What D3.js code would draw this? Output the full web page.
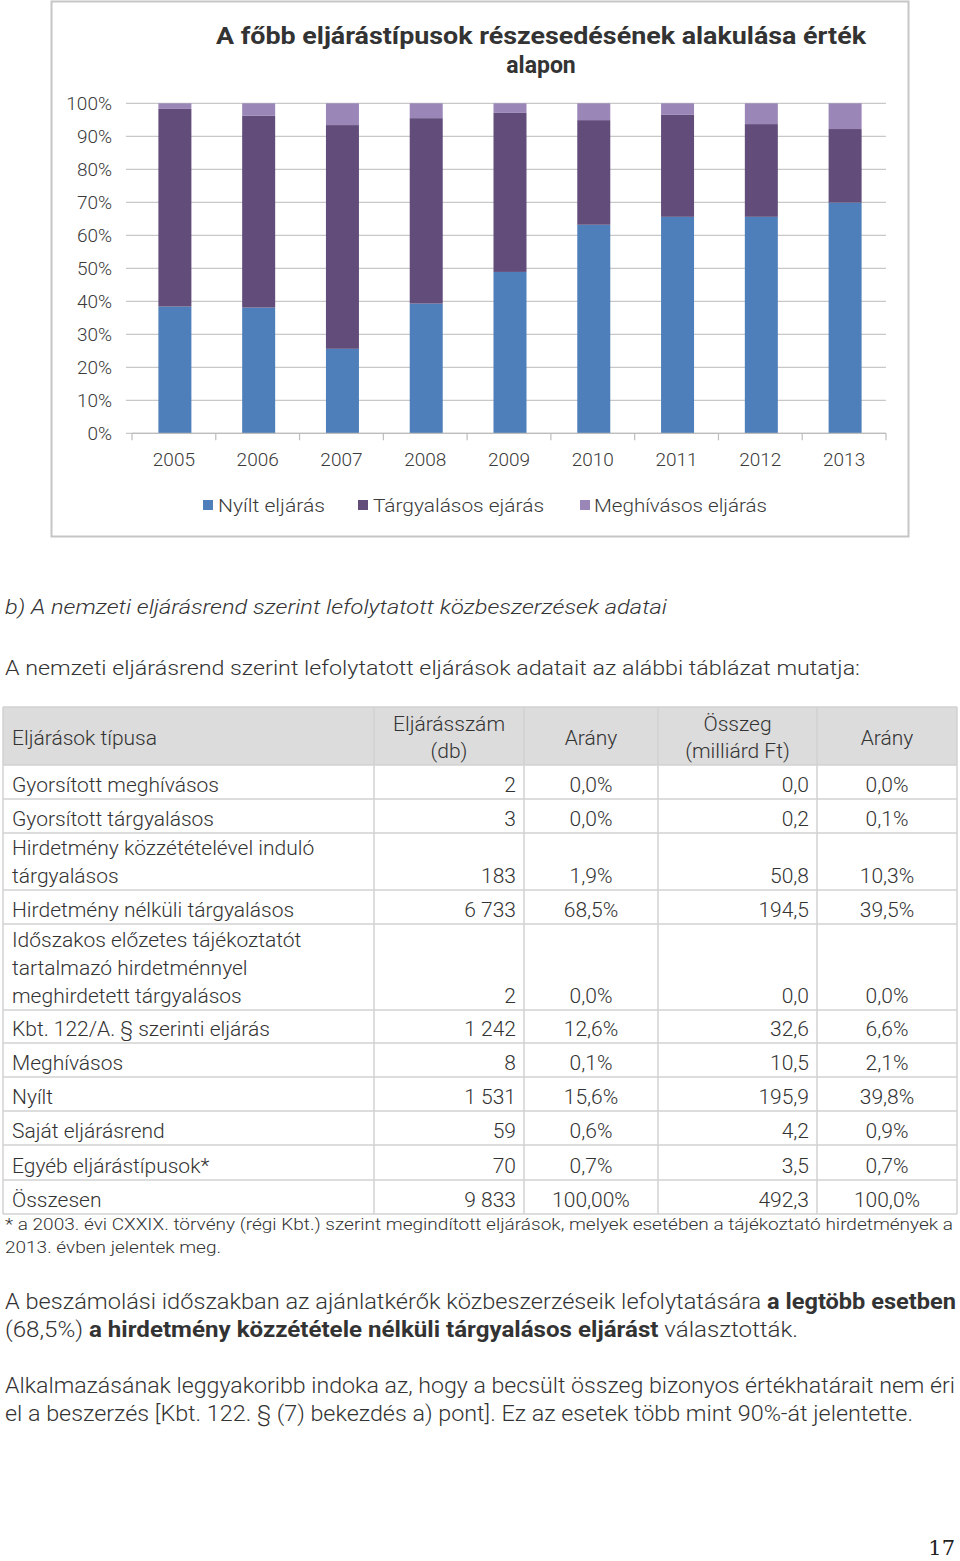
<!DOCTYPE html>
<html>
<head>
<meta charset="utf-8">
<script src="https://cdn.jsdelivr.net/npm/d3@7"></script>
<style>
  body { margin: 0; background: #fff; }
  svg { display: block; font-family: Roboto, "DejaVu Sans", sans-serif; }
</style>
</head>
<body>
<div id="page"></div>
<script>
// chart data (share of value, %)
const years = ['2005', '2006', '2007', '2008', '2009', '2010', '2011', '2012', '2013'];
const nyilt = [38.4, 38.1, 25.6, 39.3, 48.9, 63.2, 65.6, 65.6, 69.9];
const targyalasos = [59.9, 58.1, 67.8, 56.2, 48.2, 31.7, 30.9, 28.1, 22.3];
const meghivasos = [1.7, 3.8, 6.6, 4.5, 2.9, 5.1, 3.5, 6.3, 7.8];
const seriesNames = ['Nyílt eljárás', 'Tárgyalásos ejárás', 'Meghívásos eljárás'];
const yTicks = [0, 10, 20, 30, 40, 50, 60, 70, 80, 90, 100];

// table data
const rowLabels = [
    ['Gyorsított meghívásos'],
    ['Gyorsított tárgyalásos'],
    ['Hirdetmény közzétételével induló', 'tárgyalásos'],
    ['Hirdetmény nélküli tárgyalásos'],
    ['Időszakos előzetes tájékoztatót', 'tartalmazó hirdetménnyel', 'meghirdetett tárgyalásos'],
    ['Kbt. 122/A. § szerinti eljárás'],
    ['Meghívásos'],
    ['Nyílt'],
    ['Saját eljárásrend'],
    ['Egyéb eljárástípusok*'],
    ['Összesen']
];
const counts = ['2', '3', '183', '6 733', '2', '1 242', '8', '1 531', '59', '70', '9 833'];
const countShares = ['0,0%', '0,0%', '1,9%', '68,5%', '0,0%', '12,6%', '0,1%', '15,6%', '0,6%', '0,7%', '100,00%'];
const amounts = ['0,0', '0,2', '50,8', '194,5', '0,0', '32,6', '10,5', '195,9', '4,2', '3,5', '492,3'];
const amountShares = ['0,0%', '0,1%', '10,3%', '39,5%', '0,0%', '6,6%', '2,1%', '39,8%', '0,9%', '0,7%', '100,0%'];

const colors = ['#4f7fba', '#614c7a', '#9a86b7'];
const textColor = '#333';
const lightW = 300;

const svg = d3.select('#page').append('svg')
    .attr('width', 960)
    .attr('height', 1561);

// ---------- chart ----------
svg.append('rect')
    .attr('x', 51.5).attr('y', 1.5)
    .attr('width', 857).attr('height', 535)
    .attr('fill', '#fff')
    .attr('stroke', '#c6c6c6')
    .attr('stroke-width', 2);

svg.append('text')
    .attr('x', 541).attr('y', 44)
    .attr('text-anchor', 'middle')
    .attr('font-size', 23).attr('font-weight', 'bold')
    .attr('fill', textColor)
    .attr('textLength', 650).attr('lengthAdjust', 'spacingAndGlyphs')
    .text('A főbb eljárástípusok részesedésének alakulása érték');
svg.append('text')
    .attr('x', 541).attr('y', 73)
    .attr('text-anchor', 'middle')
    .attr('font-size', 23).attr('font-weight', 'bold')
    .attr('fill', textColor)
    .text('alapon');

const plot = { left: 132, right: 886, top: 103.3, bottom: 433.3 };

const x = d3.scaleBand()
    .domain(years)
    .range([plot.left, plot.right]);

const y = d3.scaleLinear()
    .domain([0, 100])
    .range([plot.bottom, plot.top]);

// gridlines
svg.append('g')
    .selectAll('line')
    .data(yTicks)
    .enter().append('line')
    .attr('x1', plot.left - 6).attr('x2', plot.right)
    .attr('y1', d => y(d)).attr('y2', d => y(d))
    .attr('stroke', '#c8c8c8')
    .attr('stroke-width', 1.2);

// y axis labels
const yAxis = svg.append('g')
    .attr('transform', `translate(${plot.left}, 0)`)
    .call(d3.axisLeft(y).tickValues(yTicks).tickSize(0).tickPadding(20).tickFormat(d => d + '%'));
yAxis.select('.domain').remove();
yAxis.selectAll('text')
    .attr('font-size', 19)
    .attr('font-weight', lightW)
    .attr('fill', '#3a3a3a')
    .attr('font-family', 'Roboto, sans-serif');

// bars
const rows = years.map((yr, i) => ({ year: yr, a: nyilt[i], b: targyalasos[i], c: meghivasos[i] }));
const stack = d3.stack().keys(['a', 'b', 'c'])(rows);
const barW = 33;

svg.append('g')
    .selectAll('g')
    .data(stack)
    .enter().append('g')
    .attr('fill', (d, i) => colors[i])
    .selectAll('rect')
    .data(d => d)
    .enter().append('rect')
    .attr('x', d => x(d.data.year) + x.bandwidth() / 2 - barW / 2 + 1)
    .attr('y', d => y(d[1]))
    .attr('width', barW)
    .attr('height', d => y(d[0]) - y(d[1]));

// x axis
svg.append('line')
    .attr('x1', plot.left).attr('x2', plot.right)
    .attr('y1', plot.bottom).attr('y2', plot.bottom)
    .attr('stroke', '#bdbdbd').attr('stroke-width', 1.2);

const bounds = years.map(d => x(d)).concat([plot.right]);
svg.append('g')
    .selectAll('line')
    .data(bounds)
    .enter().append('line')
    .attr('x1', d => d).attr('x2', d => d)
    .attr('y1', plot.bottom).attr('y2', plot.bottom + 7)
    .attr('stroke', '#bdbdbd').attr('stroke-width', 1.2);

const xAxis = svg.append('g')
    .attr('transform', `translate(0, ${plot.bottom})`)
    .call(d3.axisBottom(x).tickSize(0).tickPadding(19));
xAxis.select('.domain').remove();
xAxis.selectAll('text')
    .attr('font-size', 19)
    .attr('font-weight', lightW)
    .attr('fill', '#3a3a3a')
    .attr('font-family', 'Roboto, sans-serif');

// legend
const legendSq = [203, 358, 580];
const legendTx = [218, 373, 594];
const legendLen = [107, 171, 173];
const legend = svg.append('g')
    .selectAll('g')
    .data(seriesNames)
    .enter().append('g');
legend.append('rect')
    .attr('x', (d, i) => legendSq[i]).attr('y', 500)
    .attr('width', 10).attr('height', 10)
    .attr('fill', (d, i) => colors[i]);
legend.append('text')
    .attr('x', (d, i) => legendTx[i]).attr('y', 512)
    .attr('font-size', 19)
    .attr('font-weight', lightW)
    .attr('fill', '#3a3a3a')
    .attr('textLength', (d, i) => legendLen[i]).attr('lengthAdjust', 'spacingAndGlyphs')
    .text(d => d);

// ---------- text blocks ----------
function line(xp, yp, size, str, len, opts) {
    const t = svg.append('text')
        .attr('x', xp).attr('y', yp)
        .attr('font-size', size)
        .attr('fill', textColor);
    if (len) t.attr('textLength', len).attr('lengthAdjust', 'spacingAndGlyphs');
    if (opts && opts.italic) t.attr('font-style', 'italic');
    if (Array.isArray(str)) {
        str.forEach(s => t.append('tspan').attr('font-weight', s[1] ? 'bold' : lightW).text(s[0]));
    } else {
        t.attr('font-weight', lightW).text(str);
    }
    return t;
}

line(5, 614, 21, 'b) A nemzeti eljárásrend szerint lefolytatott közbeszerzések adatai', 662, { italic: true });
line(5, 675, 21, 'A nemzeti eljárásrend szerint lefolytatott eljárások adatait az alábbi táblázat mutatja:', 855);

// ---------- table ----------
const colX = [3, 374, 524, 658, 817, 957];
const rowY = [707, 765, 799, 833, 890, 924, 1010, 1043, 1077, 1111, 1145, 1180, 1214];
const table = svg.append('g');

table.append('rect')
    .attr('x', colX[0]).attr('y', rowY[0])
    .attr('width', colX[5] - colX[0]).attr('height', rowY[1] - rowY[0])
    .attr('fill', '#dcdcdc');

table.selectAll('.hline')
    .data(rowY)
    .enter().append('line')
    .attr('x1', colX[0]).attr('x2', colX[5])
    .attr('y1', d => d).attr('y2', d => d)
    .attr('stroke', '#d2d2d2').attr('stroke-width', 1.5);
table.selectAll('.vline')
    .data(colX)
    .enter().append('line')
    .attr('x1', d => d).attr('x2', d => d)
    .attr('y1', rowY[0]).attr('y2', rowY[rowY.length - 1])
    .attr('stroke', '#d2d2d2').attr('stroke-width', 1.5);

const tSize = 21;
const colMid = i => (colX[i] + colX[i + 1]) / 2;
function cell(xp, yp, str, anchor) {
    table.append('text')
        .attr('x', xp).attr('y', yp)
        .attr('text-anchor', anchor || 'start')
        .attr('font-size', tSize)
        .attr('font-weight', lightW)
        .attr('fill', textColor)
        .text(str);
}

// header
cell(12, 745, 'Eljárások típusa');
cell(colMid(1), 731, 'Eljárásszám', 'middle');
cell(colMid(1), 758, '(db)', 'middle');
cell(colMid(2), 745, 'Arány', 'middle');
cell(colMid(3), 731, 'Összeg', 'middle');
cell(colMid(3), 758, '(milliárd Ft)', 'middle');
cell(colMid(4), 745, 'Arány', 'middle');

rowLabels.forEach((lbl, i) => {
    const base = rowY[i + 2] - 7;
    lbl.forEach((s, j) => cell(12, base - (lbl.length - 1 - j) * 28, s));
    cell(516, base, counts[i], 'end');
    cell(colMid(2), base, countShares[i], 'middle');
    cell(809, base, amounts[i], 'end');
    cell(colMid(4), base, amountShares[i], 'middle');
});

// footnote
line(5, 1230, 17, '* a 2003. évi CXXIX. törvény (régi Kbt.) szerint megindított eljárások, melyek esetében a tájékoztató hirdetmények a', 948);
line(5, 1253, 17, '2013. évben jelentek meg.', 216);

// paragraphs
line(5, 1309, 22, [['A beszámolási időszakban az ajánlatkérők közbeszerzéseik lefolytatására ', false], ['a legtöbb esetben', true]], 951);
line(5, 1337, 22, [['(68,5%) ', false], ['a hirdetmény közzététele nélküli tárgyalásos eljárást', true], [' választották.', false]], 793);
line(5, 1393, 22, 'Alkalmazásának leggyakoribb indoka az, hogy a becsült összeg bizonyos értékhatárait nem éri', 950);
line(5, 1421, 22, 'el a beszerzés [Kbt. 122. § (7) bekezdés a) pont]. Ez az esetek több mint 90%-át jelentette.', 908);

// page number
svg.append('text')
    .attr('x', 955).attr('y', 1555)
    .attr('text-anchor', 'end')
    .attr('font-size', 21)
    .attr('font-family', '"DejaVu Serif", serif')
    .attr('fill', '#222')
    .text('17');
</script>
</body>
</html>
